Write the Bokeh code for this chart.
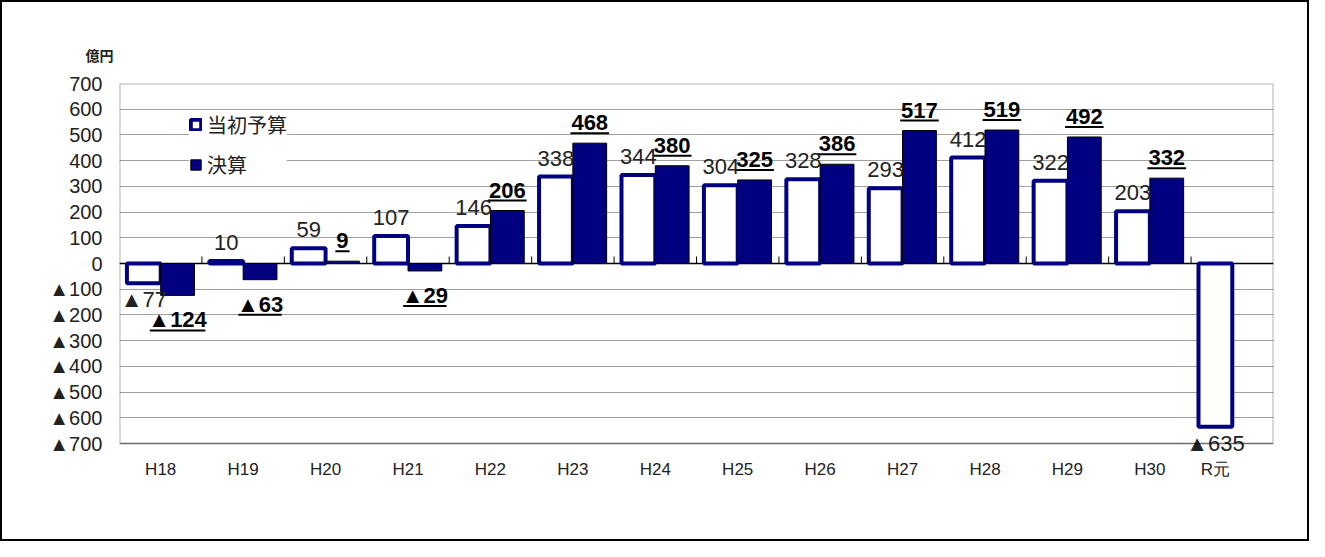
from bokeh.plotting import figure
from bokeh.models import (ColumnDataSource, LabelSet, Legend, LegendItem,
                          FixedTicker, Span, BoxAnnotation)
from bokeh.core.properties import value
from bokeh.embed import file_html
from bokeh.resources import INLINE

# ---------------- data ----------------
categories = ["H18", "H19", "H20", "H21", "H22", "H23", "H24", "H25",
              "H26", "H27", "H28", "H29", "H30", "R元"]
budget = [-77, 10, 59, 107, 146, 338, 344, 304, 328, 293, 412, 322, 203, -635]
settlement = [-124, -63, 9, -29, 206, 468, 380, 325, 386, 517, 519, 492, 332, None]
y_ticks = list(range(-700, 701, 100))
series_names = ["当初予算", "決算"]
unit_label = "億円"


def fmt(v):
    return "▲%d" % (-v) if v < 0 else "%d" % v


# ---------------- geometry / style ----------------
W, H = 1309, 541
EXTRA = 14                       # px of free room under the -700 line
ML, MR, MT, MB = 117, 38, 81, 100 - EXTRA
FW, FH = W - ML - MR, H - MT - MB
XMIN, XMAX = -0.5, len(categories) - 0.5
YLO, YHI = y_ticks[0], y_ticks[-1]
uy = (YHI - YLO) / (FH - EXTRA)  # data units per px (y)
ux = (XMAX - XMIN) / FW          # data units per px (x)
YMIN = YLO - EXTRA * uy
BW, OFF = 0.41, 0.205
NAVY = "#000080"
NUMFONT = value("Liberation Sans")
NUMSIZE = value("22px")
TXT = "#222222"

p = figure(width=W, height=H, x_range=(XMIN, XMAX), y_range=(YMIN, YHI),
           output_backend="svg", toolbar_location=None,
           min_border_left=ML, min_border_right=MR,
           min_border_top=MT, min_border_bottom=MB)
p.styles = {"border": "2px solid black"}
p.background_fill_color = "white"
p.border_fill_color = "white"
p.outline_line_color = None

# title used as the unit caption
p.title.text = unit_label
p.title.align = "left"
p.title.offset = -34
p.title.standoff = 37
p.title.text_font = "Noto Sans CJK JP"
p.title.text_font_size = "14px"
p.title.text_font_style = "bold"
p.title.text_color = TXT

# grid
p.xgrid.grid_line_color = None
p.ygrid.ticker = FixedTicker(ticks=y_ticks)
p.ygrid.grid_line_color = "#a0a0a0"
p.ygrid.grid_line_width = 1.2

# plot-area border
p.add_layout(BoxAnnotation(left=XMIN, right=XMAX, bottom=YLO, top=YHI,
                           fill_alpha=0, line_color="black", line_width=2,
                           level="overlay"))

# y axis
p.yaxis.ticker = FixedTicker(ticks=y_ticks)
p.yaxis.major_label_overrides = {v: fmt(v) for v in y_ticks}
p.yaxis.axis_line_color = None
p.yaxis.major_tick_line_color = None
p.yaxis.minor_tick_line_color = None
p.yaxis.major_label_text_font = "Liberation Sans"
p.yaxis.major_label_text_font_size = "20px"
p.yaxis.major_label_text_color = TXT
p.yaxis.major_label_standoff = 11

# x axis
n = len(categories)
xt = [float(i) for i in range(n - 1)] + [n - 1 - OFF]
p.xaxis.ticker = FixedTicker(ticks=xt)
p.xaxis.major_label_overrides = {t: c for t, c in zip(xt, categories)}
p.xaxis.axis_line_color = None
p.xaxis.major_tick_line_color = None
p.xaxis.minor_tick_line_color = None
p.xaxis.major_label_text_font = "Liberation Sans"
p.xaxis.major_label_text_font_size = "17px"
p.xaxis.major_label_text_color = TXT
p.xaxis.major_label_standoff = 10 - EXTRA

# zero line and its tick marks
p.add_layout(Span(location=0, dimension="width", line_color="black",
                  line_width=1.5, level="underlay"))
bx = [i + 0.5 for i in range(n - 1)]
p.segment(x0=bx, x1=bx, y0=[0] * len(bx), y1=[7 * uy] * len(bx),
          line_color="black", line_width=1)

# bars
bsrc = ColumnDataSource(dict(x=[i - OFF for i in range(n)], top=budget))
si = [i for i in range(n) if settlement[i] is not None]
sv = [settlement[i] for i in si]
ssrc = ColumnDataSource(dict(x=[i + OFF for i in si], top=sv))

rb = p.vbar(x="x", top="top", bottom=0, width=BW, source=bsrc,
            fill_color="white", line_color=NAVY, line_width=4)
rs = p.vbar(x="x", top="top", bottom=0, width=BW, source=ssrc,
            fill_color=NAVY, line_color="black", line_width=1)

# budget labels (LabelSet y_offset: positive = up)
bpos = ColumnDataSource(dict(x=[i - OFF for i in range(n) if budget[i] >= 0],
                             y=[v for v in budget if v >= 0],
                             lab=[fmt(v) for v in budget if v >= 0]))
bneg = ColumnDataSource(dict(x=[i - OFF for i in range(n) if budget[i] < 0],
                             y=[v for v in budget if v < 0],
                             lab=[fmt(v) for v in budget if v < 0]))
for src, yoff in ((bpos, 11), (bneg, -24)):
    p.add_layout(LabelSet(x="x", y="y", text="lab", source=src,
                          x_offset=0, y_offset=yoff, text_align="center",
                          text_baseline="alphabetic", text_font=NUMFONT,
                          text_font_size=NUMSIZE, text_color=TXT))

# settlement labels (bold, underlined)
spos_i = [k for k in range(len(sv)) if sv[k] >= 0]
sneg_i = [k for k in range(len(sv)) if sv[k] < 0]
spos = ColumnDataSource(dict(x=[si[k] + OFF for k in spos_i],
                             y=[sv[k] for k in spos_i],
                             lab=[fmt(sv[k]) for k in spos_i]))
sneg = ColumnDataSource(dict(x=[si[k] + OFF for k in sneg_i],
                             y=[sv[k] for k in sneg_i],
                             lab=[fmt(sv[k]) for k in sneg_i]))
for src, yoff in ((spos, 13), (sneg, -32)):
    p.add_layout(LabelSet(x="x", y="y", text="lab", source=src,
                          x_offset=0, y_offset=yoff, text_align="center",
                          text_baseline="alphabetic", text_font=NUMFONT,
                          text_font_style="bold", text_font_size=NUMSIZE,
                          text_color="black"))


def text_w(s):
    w = 0
    for ch in s:
        w += 17 if ch == "▲" else 12.2
    return w


ux0, ux1, uyl = [], [], []
for k in range(len(sv)):
    v = sv[k]
    w = (text_w(fmt(v)) + 2) * ux
    cx = si[k] + OFF
    ux0.append(cx - w / 2)
    ux1.append(cx + w / 2)
    uyl.append(v + 10 * uy if v >= 0 else v - 35 * uy)
p.segment(x0=ux0, x1=ux1, y0=uyl, y1=uyl, line_color="black", line_width=2)

# legend
legend = Legend(items=[LegendItem(label=series_names[0], renderers=[rb]),
                       LegendItem(label=series_names[1], renderers=[rs])],
                location=(70, 264 + EXTRA), orientation="vertical",
                label_text_font="Noto Sans CJK JP", label_text_font_size="20px",
                label_text_color=TXT,
                glyph_width=13, glyph_height=13, label_standoff=5,
                label_height=20, spacing=11, padding=11, margin=0,
                border_line_color=None, background_fill_color="white",
                background_fill_alpha=1.0)
p.add_layout(legend)

open("out.html", "w").write(file_html(p, INLINE))
